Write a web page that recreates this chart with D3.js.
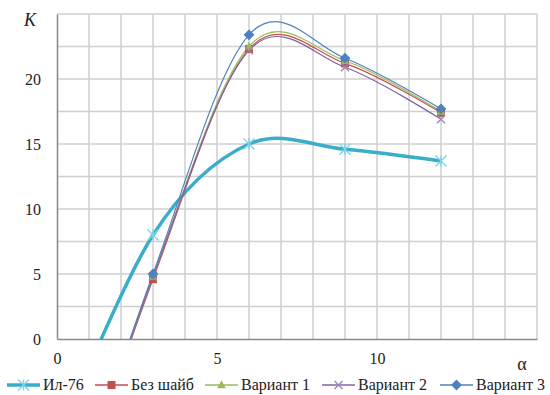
<!DOCTYPE html>
<html><head><meta charset="utf-8">
<script src="https://cdnjs.cloudflare.com/ajax/libs/d3/7.8.5/d3.min.js"></script>
<style>body{margin:0;background:#fff}svg{display:block}svg text{font-family:"Liberation Serif",serif !important}</style>
</head><body><svg id="c" width="550" height="395" font-family="Liberation Serif"></svg>
<script>
const alpha = [0, 3, 6, 9, 12];
const il76 = [-8, 8.0, 15.0, 14.6, 13.7];
const bezShaib = [-17, 4.6, 22.3, 21.2, 17.4];
const variant1 = [-17, 4.8, 22.5, 21.4, 17.5];
const variant2 = [-17, 4.8, 22.2, 20.9, 16.9];
const variant3 = [-17, 5.0, 23.4, 21.6, 17.7];
const seriesNames = ["Ил-76", "Без шайб", "Вариант 1", "Вариант 2", "Вариант 3"];
const xTicks = [0, 5, 10];
const yTicks = [0, 5, 10, 15, 20];

const FONT = "Liberation Serif";
const seriesValues = [il76, bezShaib, variant1, variant2, variant3];
const styles = [
  {color: "#3aaec8", width: 3.5, marker: "asterisk", mcolor: "#7fd3e6"},
  {color: "#c0504d", width: 1.2, marker: "square", mcolor: "#c0504d"},
  {color: "#9bbb59", width: 1.2, marker: "triangle", mcolor: "#9bbb59"},
  {color: "#8064a2", width: 1.2, marker: "cross", mcolor: "#9a85b8"},
  {color: "#4f81bd", width: 1.2, marker: "diamond", mcolor: "#4f81bd"}
];

const svg = d3.select("#c");
const x = d3.scaleLinear().domain([0, 15]).range([57, 537]);
const y = d3.scaleLinear().domain([0, 25]).range([339, 14]);

const g = svg.append("g");
g.selectAll(".vg").data(d3.range(1, 16)).enter().append("line")
  .attr("x1", d => x(d)).attr("x2", d => x(d)).attr("y1", y(0)).attr("y2", y(25))
  .attr("stroke", "#cfcfcf").attr("stroke-width", 1.5);
g.selectAll(".hg").data(d3.range(2.5, 25.1, 2.5)).enter().append("line")
  .attr("x1", x(0)).attr("x2", x(15)).attr("y1", d => y(d)).attr("y2", d => y(d))
  .attr("stroke", "#cfcfcf").attr("stroke-width", 1.5);

const xAxis = d3.axisBottom(x).tickValues(xTicks).tickSize(0).tickPadding(14);
const yAxis = d3.axisLeft(y).tickValues(yTicks).tickSize(0).tickPadding(16);
const xa = svg.append("g").attr("transform", `translate(0,${y(0)})`).call(xAxis);
const ya = svg.append("g").attr("transform", `translate(${x(0)},0)`).call(yAxis);
[xa, ya].forEach(a => {
  a.attr("font-family", FONT).attr("font-size", 16);
  a.select(".domain").attr("stroke", "#888").attr("stroke-width", 1.5);
  a.selectAll("text").attr("font-size", 16).attr("fill", "#222").attr("font-family", FONT);
});
svg.append("text").attr("x", 30).attr("y", 26).attr("text-anchor", "middle")
  .attr("font-size", 18).attr("font-family", FONT).attr("font-style", "italic").attr("fill", "#222").text("K");
svg.append("text").attr("x", 522).attr("y", 370).attr("text-anchor", "middle")
  .attr("font-size", 18).attr("font-family", FONT).attr("fill", "#222").text("α");

svg.append("clipPath").attr("id", "pc").append("rect")
  .attr("x", x(0)).attr("y", y(25) - 8).attr("width", x(15) - x(0) + 8).attr("height", y(0) - y(25) + 8);

const line = d3.line().x(d => x(d[0])).y(d => y(d[1])).curve(d3.curveCardinal.tension(0));

function marker(sel, type, cx, cy, col, s) {
  if (type === "square") {
    sel.append("rect").attr("x", cx - s/2).attr("y", cy - s/2).attr("width", s).attr("height", s).attr("fill", col);
  } else if (type === "triangle") {
    sel.append("path").attr("d", `M${cx},${cy - s*0.6}L${cx + s*0.55},${cy + s*0.4}L${cx - s*0.55},${cy + s*0.4}Z`).attr("fill", col);
  } else if (type === "diamond") {
    sel.append("path").attr("d", `M${cx},${cy - s*0.6}L${cx + s*0.6},${cy}L${cx},${cy + s*0.6}L${cx - s*0.6},${cy}Z`).attr("fill", col);
  } else if (type === "cross") {
    const h = s/2;
    sel.append("path").attr("d", `M${cx-h},${cy-h}L${cx+h},${cy+h}M${cx-h},${cy+h}L${cx+h},${cy-h}`)
      .attr("stroke", col).attr("stroke-width", 1.3).attr("fill", "none");
  } else if (type === "asterisk") {
    const h = s/2;
    sel.append("path").attr("d", `M${cx-h},${cy-h}L${cx+h},${cy+h}M${cx-h},${cy+h}L${cx+h},${cy-h}M${cx},${cy-h}L${cx},${cy+h}`)
      .attr("stroke", col).attr("stroke-width", 1.4).attr("fill", "none");
  }
}
const msize = [11, 8, 8, 8, 9];

const plot = svg.append("g").attr("clip-path", "url(#pc)");
seriesValues.forEach((vals, i) => {
  const pts = alpha.map((a, j) => [a, vals[j]]);
  plot.append("path").attr("d", line(pts)).attr("fill", "none")
    .attr("stroke", styles[i].color).attr("stroke-width", styles[i].width);
});
seriesValues.forEach((vals, i) => {
  alpha.forEach((a, j) => {
    if (vals[j] >= 0) marker(plot, styles[i].marker, x(a), y(vals[j]), styles[i].mcolor, msize[i]);
  });
});

const legX = [7, 95, 205, 322, 440];
const leg = svg.append("g");
seriesNames.forEach((n, i) => {
  const lx = legX[i], ly = 385;
  leg.append("line").attr("x1", lx).attr("x2", lx + 33).attr("y1", ly).attr("y2", ly)
    .attr("stroke", styles[i].color).attr("stroke-width", styles[i].width === 3.5 ? 3.5 : 1.5);
  marker(leg, styles[i].marker, lx + 16.5, ly, styles[i].mcolor, msize[i]);
  leg.append("text").attr("x", lx + 36).attr("y", ly + 5).attr("font-size", 16)
    .attr("font-family", FONT).attr("fill", "#222").text(n);
});
</script></body></html>
